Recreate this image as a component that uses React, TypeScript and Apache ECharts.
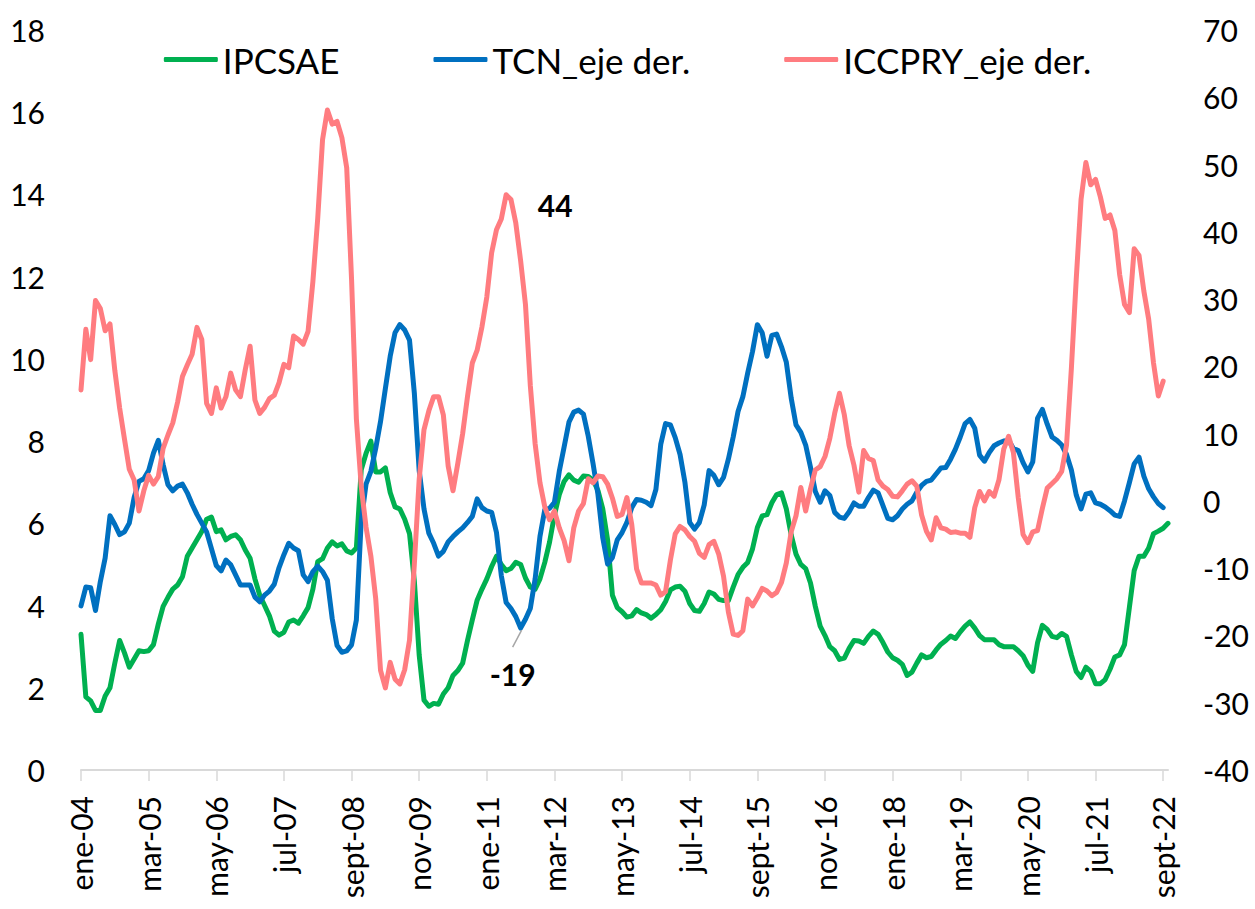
import React, { useEffect, useRef } from "react";
import * as echarts from "echarts";

const MONTHS = ["ene", "feb", "mar", "abr", "may", "jun", "jul", "ago", "sept", "oct", "nov", "dic"];
const START_YEAR = 2004;
const N_MONTHS = 226; // ene-04 .. oct-22

const categories: string[] = [];
for (let i = 0; i < N_MONTHS; i++) {
  const y = START_YEAR + Math.floor(i / 12);
  categories.push(`${MONTHS[i % 12]}-${String(y % 100).padStart(2, "0")}`);
}

// IPCSAE (left axis)
const ipcsae: (number | null)[] = [
  3.3, 1.78, 1.68, 1.45, 1.45, 1.8, 2.0, 2.6, 3.15, 2.85, 2.5, 2.7,
  2.9, 2.88, 2.9, 3.05, 3.55, 3.98, 4.2, 4.4, 4.5, 4.7, 5.2, 5.4,
  5.6, 5.8, 6.1, 6.15, 5.8, 5.84, 5.6, 5.68, 5.72, 5.6, 5.35, 5.15,
  4.65, 4.25, 4.0, 3.75, 3.38, 3.28, 3.35, 3.6, 3.65, 3.57, 3.75, 3.95,
  4.4, 5.07, 5.14, 5.4, 5.55, 5.45, 5.5, 5.33, 5.28, 5.4, 7.3, 7.7,
  8.0, 7.25, 7.25, 7.35, 6.75, 6.4, 6.35, 6.1, 5.75, 4.6, 2.8, 1.7,
  1.55, 1.62, 1.6, 1.85, 2.0, 2.3, 2.42, 2.6, 3.15, 3.65, 4.13, 4.4,
  4.65, 4.95, 5.2, 5.0, 4.85, 4.9, 5.05, 5.0, 4.67, 4.45, 4.4, 4.65,
  5.05, 5.55, 6.2, 6.7, 7.02, 7.18, 7.05, 7.0, 7.15, 7.14, 7.05, 6.8,
  6.35, 5.6, 4.25, 3.95, 3.85, 3.72, 3.75, 3.9, 3.82, 3.78, 3.69, 3.78,
  3.9, 4.1, 4.38, 4.45, 4.47, 4.35, 4.05, 3.88, 3.86, 4.05, 4.33, 4.28,
  4.15, 4.12, 4.12, 4.45, 4.75, 4.93, 5.05, 5.38, 5.9, 6.18, 6.21, 6.5,
  6.7, 6.74, 6.35, 5.72, 5.25, 5.0, 4.9, 4.55, 3.98, 3.5, 3.27, 3.0,
  2.9, 2.69, 2.72, 2.96, 3.15, 3.14, 3.08, 3.25, 3.38, 3.3, 3.1, 2.87,
  2.73, 2.67, 2.57, 2.3, 2.38, 2.6, 2.8, 2.73, 2.76, 2.92, 3.06, 3.15,
  3.26, 3.2, 3.36, 3.5, 3.6, 3.45, 3.27, 3.17, 3.17, 3.17, 3.05, 3.0,
  3.0, 3.0, 2.9, 2.78, 2.55, 2.4, 3.1, 3.52, 3.42, 3.25, 3.22, 3.32,
  3.25, 2.8, 2.4, 2.25, 2.5, 2.4, 2.1, 2.1, 2.2, 2.45, 2.75, 2.8,
  3.05, 3.95, 4.85, 5.2, 5.2, 5.4, 5.75, 5.81, 5.88, 6.0,
];

// TCN (right axis)
const tcn: (number | null)[] = [
  -15.6, -12.8, -12.9, -16.3, -12.0, -8.5, -2.2, -3.5, -5.0, -4.6, -3.3, 0.5,
  2.9, 3.3, 4.5, 7.1, 9.0, 5.4, 2.4, 1.5, 2.2, 2.5, 1.2, -0.5,
  -2.0, -3.3, -4.6, -7.1, -9.6, -10.4, -8.8, -9.5, -11.0, -12.5, -12.5, -12.5,
  -14.3, -15.0, -14.0, -13.4, -12.4, -9.9, -8.0, -6.3, -7.0, -7.4, -11.0, -12.0,
  -10.5, -9.7, -10.5, -11.8, -17.5, -21.5, -22.5, -22.3, -21.4, -17.7, -3.0, 2.5,
  4.4, 7.8, 11.8, 16.7, 21.5, 25.0, 26.2, 25.4, 23.9, 16.0, 4.5, -1.2,
  -4.8, -6.3, -8.2, -7.5, -6.1, -5.3, -4.6, -4.0, -3.2, -2.3, 0.3, -1.0,
  -1.5, -1.7, -4.7, -11.1, -15.1, -16.0, -17.2, -18.9, -17.6, -16.0, -11.6, -5.3,
  -1.3, -1.1, -0.2, 4.4, 8.0, 11.7, 13.2, 13.5, 12.9, 9.6, 5.5, 1.0,
  -5.5, -9.4, -8.4, -5.8, -4.7, -3.2, -1.0, 0.2, 0.1, -0.2, -0.7, 1.7,
  8.4, 11.5, 11.3, 9.4, 6.9, 2.8, -3.2, -4.2, -3.2, -0.6, 4.5, 3.8,
  2.4, 3.5, 6.2, 9.5, 13.3, 15.5, 19.0, 22.2, 26.2, 25.0, 21.5, 24.6,
  24.8, 22.9, 20.6, 15.3, 11.3, 10.2, 8.3, 5.0, 1.4, -0.2, 1.5, 0.8,
  -1.7, -2.4, -2.6, -1.6, -0.3, -0.8, -0.8, 0.5, 1.6, 1.2, -0.7, -2.6,
  -2.8, -2.2, -1.2, -0.5, 0.0, 1.3, 2.3, 2.9, 3.1, 4.0, 4.9, 4.95,
  6.2, 7.7, 9.5, 11.5, 12.1, 10.8, 6.8, 5.9, 7.2, 8.2, 8.6, 8.9,
  9.0, 7.8, 7.5, 5.7, 4.3, 5.8, 12.3, 13.6, 11.4, 9.5, 9.0, 8.3,
  6.9, 4.6, 0.9, -1.2, 1.0, 1.2, -0.3, -0.5, -0.9, -1.45, -2.1, -2.3,
  0.0, 2.7, 5.5, 6.5, 3.7, 1.8, 0.6, -0.4, -1.0, null,
];

// ICCPRY (right axis)
const iccpry: (number | null)[] = [
  16.5, 25.5, 21.0, 29.8, 28.6, 25.3, 26.3, 19.4, 13.8, 9.2, 4.7, 3.1,
  -1.5, 1.5, 3.8, 2.5, 3.6, 7.8, 9.8, 11.6, 14.7, 18.5, 20.2, 21.8,
  25.8, 24.0, 14.5, 13.0, 16.8, 13.8, 15.5, 19.0, 16.5, 15.5, 19.5, 23.0,
  15.0, 13.0, 13.9, 15.2, 15.7, 17.6, 20.3, 19.8, 24.5, 24.0, 23.3, 25.2,
  32.6, 42.0, 53.7, 58.1, 56.0, 56.4, 54.0, 49.5, 33.0, 12.2, 2.2, -3.9,
  -8.2, -14.5, -25.2, -27.8, -24.0, -26.5, -27.2, -25.1, -20.7, -9.4, 3.2, 10.6,
  13.4, 15.5, 15.5, 12.8, 5.2, 1.5, 5.6, 10.0, 15.5, 20.5, 22.4, 25.9,
  30.3, 36.9, 40.3, 41.9, 45.5, 44.8, 41.3, 35.7, 29.2, 17.2, 8.5, 2.7,
  -0.9, -2.8, -1.5, -4.0, -5.9, -8.9, -4.0, -1.5, -0.4, 3.3, 2.7, 3.7,
  3.6, 2.5, 0.4, -2.3, -2.0, 0.5, -3.5, -10.1, -12.2, -12.2, -12.2, -12.5,
  -14.0, -13.5, -8.8, -4.9, -3.8, -4.3, -5.3, -6.0, -7.8, -8.4, -6.5, -6.0,
  -7.9, -11.2, -16.5, -19.8, -20.0, -19.3, -14.6, -15.6, -14.4, -13.0, -13.4, -14.1,
  -13.6, -12.1, -9.2, -4.6, -2.2, 2.0, -1.5, 1.8, 4.6, 5.1, 6.6, 9.3,
  13.0, 16.0, 12.8, 8.2, 5.3, 1.3, 7.5, 6.3, 6.0, 3.1, 2.2, 1.7,
  0.7, 0.6, 1.5, 2.5, 3.0, 2.2, -2.1, -4.5, -5.8, -2.5, -4.0, -4.2,
  -4.7, -4.6, -4.8, -4.8, -5.4, -1.0, 1.4, 0.0, 1.4, 0.7, 3.1, 7.7,
  9.6, 7.2, 0.5, -5.0, -6.2, -4.6, -4.4, -1.1, 1.9, 2.6, 3.3, 4.4,
  8.3, 19.7, 32.9, 44.8, 50.3, 47.0, 47.8, 45.2, 42.0, 42.5, 40.2, 33.6,
  29.2, 28.0, 37.5, 36.5, 31.2, 27.0, 20.5, 15.6, 17.8, null,
];

const SERIES_NAMES = ["IPCSAE", "TCN_eje der.", "ICCPRY_eje der."];
const COLORS = ["#00B050", "#0070C0", "#FF7C80"];

// annotations: [series index, data index, text]
const ANNOT_PEAK = { series: 2, index: 88, text: "44" };
const ANNOT_MIN = { series: 1, index: 91, text: "-19" };

const FONT = "Lato, 'Open Sans', sans-serif";

export default function App() {
  const ref = useRef<HTMLDivElement>(null);

  useEffect(() => {
    if (!ref.current) return;
    const chart = echarts.init(ref.current, null, { renderer: "svg" });
    const seriesData = [ipcsae, tcn, iccpry];
    const option: any = {
      animation: false,
      backgroundColor: "#ffffff",
      textStyle: { fontFamily: FONT },
      grid: { left: 81, right: 87, top: 30, bottom: 139 },
      legend: {
        top: 37,
        left: "center",
        itemGap: 94,
        itemWidth: 54,
        itemHeight: 5,
        icon: "roundRect",
        textStyle: { fontSize: 35, color: "#000", fontFamily: FONT },
        data: SERIES_NAMES,
      },
      xAxis: {
        type: "category",
        data: categories,
        boundaryGap: false,
        axisLine: { show: true, lineStyle: { color: "#d9d9d9", width: 2 } },
        axisTick: { show: true, interval: 13, length: 11, lineStyle: { color: "#d9d9d9", width: 1.5 } },
        axisLabel: {
          interval: 13,
          rotate: 90,
          margin: 26,
          fontSize: 30,
          color: "#000",
          fontFamily: FONT,
        },
        splitLine: { show: false },
      },
      yAxis: [
        {
          type: "value",
          min: 0,
          max: 18,
          interval: 2,
          axisLine: { show: false },
          axisTick: { show: false },
          splitLine: { show: false },
          axisLabel: { margin: 36, fontSize: 30, color: "#000", fontFamily: FONT },
        },
        {
          type: "value",
          min: -40,
          max: 70,
          interval: 10,
          position: "right",
          axisLine: { show: false },
          axisTick: { show: false },
          splitLine: { show: false },
          axisLabel: { margin: 35, fontSize: 30, color: "#000", fontFamily: FONT },
        },
      ],
      series: SERIES_NAMES.map((name, k) => ({
        name,
        type: "line",
        yAxisIndex: k === 0 ? 0 : 1,
        data: seriesData[k],
        showSymbol: false,
        symbol: "none",
        connectNulls: false,
        lineStyle: { color: COLORS[k], width: 5, cap: "round", join: "round" },
        itemStyle: { color: COLORS[k] },
        z: 2 + k,
      })),
    };
    chart.setOption(option);

    const toPx = (s: number, idx: number) => {
      const yAxisIndex = s === 0 ? 0 : 1;
      const v = seriesData[s][idx] as number;
      return chart.convertToPixel({ xAxisIndex: 0, yAxisIndex }, [idx, v]) as number[];
    };
    const p1 = toPx(ANNOT_PEAK.series, ANNOT_PEAK.index);
    const p2 = toPx(ANNOT_MIN.series, ANNOT_MIN.index);
    chart.setOption({
      graphic: [
        {
          type: "text",
          x: p1[0] + 49,
          y: p1[1] + 10,
          z: 100,
          style: {
            text: ANNOT_PEAK.text,
            fill: "#000",
            font: `bold 30px ${FONT}`,
            textAlign: "center",
            textVerticalAlign: "middle",
          },
        },
        {
          type: "line",
          z: 100,
          shape: { x1: p2[0] + 1, y1: p2[1] + 2, x2: p2[0] - 8, y2: p2[1] + 19 },
          style: { stroke: "#a6a6a6", lineWidth: 1.5 },
        },
        {
          type: "text",
          x: p2[0] - 8,
          y: p2[1] + 46,
          z: 100,
          style: {
            text: ANNOT_MIN.text,
            fill: "#000",
            font: `bold 30px ${FONT}`,
            textAlign: "center",
            textVerticalAlign: "middle",
          },
        },
      ],
    });

    return () => chart.dispose();
  }, []);

  return (
    <div
      ref={ref}
      style={{ position: "absolute", left: 0, top: 0, width: 1255, height: 909, background: "#fff" }}
    />
  );
}
